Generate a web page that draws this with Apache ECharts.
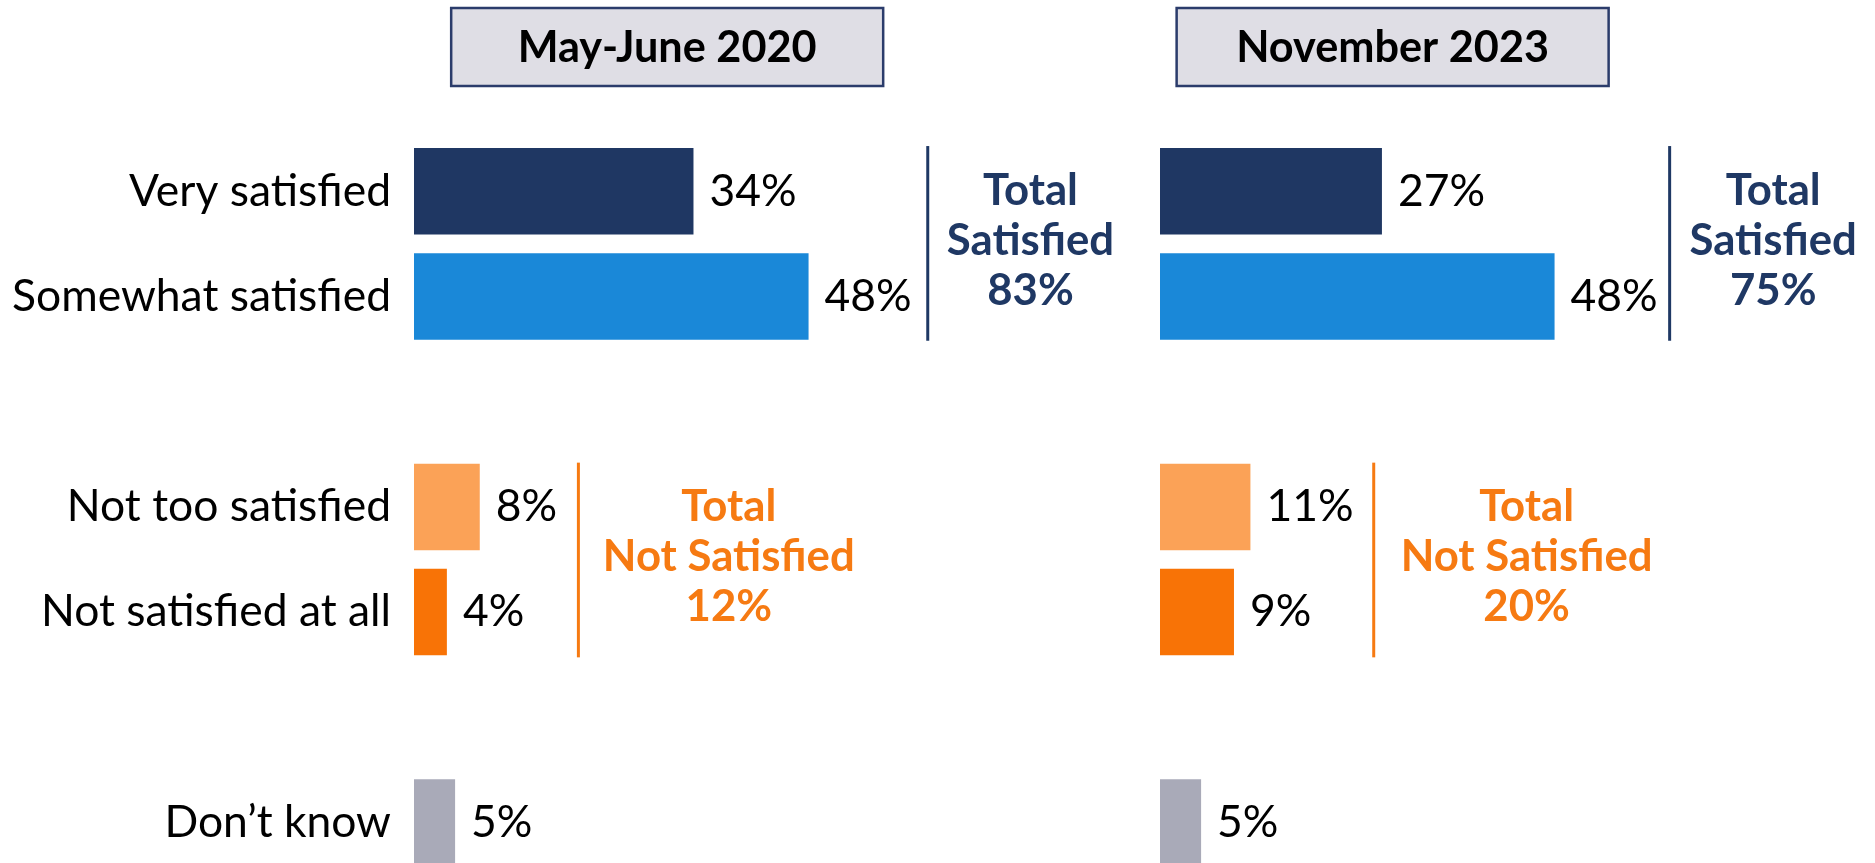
<!DOCTYPE html>
<html><head><meta charset="utf-8">
<script src="https://cdn.jsdelivr.net/npm/echarts@6/dist/echarts.min.js"></script>
<style>html,body{margin:0;padding:0;background:#fff}#c{width:1875px;height:863px}</style>
</head><body><div id="c"></div>
<script>
// ---- data ----
const categories = ['Very satisfied', 'Somewhat satisfied', '', 'Not too satisfied', 'Not satisfied at all', '', 'Don’t know'];
const periods = ['May-June 2020', 'November 2023'];
const values2020 = [34, 48, null, 8, 4, null, 5];
const values2023 = [27, 48, null, 11, 9, null, 5];
const totalSatisfied = [83, 75];
const totalNotSatisfied = [12, 20];

// ---- styles ----
const barColors = ['#1F3763', '#1A88D8', '#fff', '#FBA257', '#F87306', '#fff', '#A9AAB8'];
const NAVY = '#1F3864', ORANGE = '#F67A12';
const FONT = 'Lato';

function fit(text, target, weight) {
  const ctx = document.createElement('canvas').getContext('2d');
  ctx.font = weight + ' 100px ' + FONT;
  return 100 * target / ctx.measureText(text).width;
}
const labelSize = fit('Somewhat satisfied', 379, 'normal');
const boldSize = fit('Not Satisfied', 252, 'bold');
const titleSize = fit('November 2023', 313, 'bold');

const chart = echarts.init(document.getElementById('c'), null, {renderer: 'canvas'});
const grids = [
  {left: 414, top: 138.7, width: 411, height: 736.4, outerBoundsMode: 'none'},
  {left: 1160, top: 138.7, width: 411, height: 736.4, outerBoundsMode: 'none'}
];
const allValues = [values2020, values2023];

function barSeries(vals, gi) {
  return {
    type: 'bar', xAxisIndex: gi, yAxisIndex: gi, barWidth: 86.5, silent: true,
    data: vals.map((v, i) => v == null ? '-' : {value: v, itemStyle: {color: barColors[i]}}),
    label: {show: true, position: 'right', distance: 16, formatter: '{c}%',
      fontSize: labelSize, fontFamily: FONT, color: '#000'}
  };
}

chart.setOption({
  animation: false,
  backgroundColor: '#fff',
  grid: grids,
  xAxis: [0, 1].map(gi => ({gridIndex: gi, type: 'value', min: 0, max: 50, show: false})),
  yAxis: [0, 1].map(gi => ({
    gridIndex: gi, type: 'category', data: categories, inverse: true,
    axisLine: {show: false}, axisTick: {show: false}, splitLine: {show: false},
    axisLabel: {show: gi === 0, interval: 0, margin: 23, fontSize: labelSize, fontFamily: FONT, color: '#000'}
  })),
  series: [barSeries(values2020, 0), barSeries(values2023, 1)]
});

// ---- annotations placed through the axes ----
const layout = {
  headerX: [30.8, 28.3],
  satLineX: [62.5, 62.0], satTextX: [75.0, 74.6],
  notLineX: [20.0, 26.0], notTextX: [38.3, 44.6]
};
const half = 86.5 / 2;
const graphics = [];
[0, 1].forEach(gi => {
  const P = (x, y) => chart.convertToPixel({gridIndex: gi}, [x, y]);
  // header
  const hc = P(layout.headerX[gi], 0)[0];
  graphics.push({type: 'rect', shape: {x: hc - 216, y: 8, width: 432, height: 78},
    style: {fill: '#DFDEE5', stroke: '#2B3C6B', lineWidth: 2.5}});
  graphics.push({type: 'text', x: hc, y: 48, style: {text: periods[gi], fontSize: titleSize, fontWeight: 'bold',
    fontFamily: FONT, fill: '#000', align: 'center', verticalAlign: 'middle', textAlign: 'center', textVerticalAlign: 'middle'}});
  // satisfied bracket
  const y0 = P(0, 0)[1], y1 = P(0, 1)[1];
  const lx = P(layout.satLineX[gi], 0)[0];
  graphics.push({type: 'line', shape: {x1: lx, y1: y0 - half - 2, x2: lx, y2: y1 + half + 1},
    style: {stroke: NAVY, lineWidth: 3}});
  const tx = P(layout.satTextX[gi], 0)[0];
  graphics.push({type: 'text', x: tx, y: (y0 + y1) / 2 - 3, style: {
    text: 'Total\nSatisfied\n' + totalSatisfied[gi] + '%', fontSize: boldSize, fontWeight: 'bold', fontFamily: FONT,
    lineHeight: 50, fill: NAVY, align: 'center', verticalAlign: 'middle', textAlign: 'center', textVerticalAlign: 'middle'}});
  // not satisfied bracket
  const y3 = P(0, 3)[1], y4 = P(0, 4)[1];
  const ox = P(layout.notLineX[gi], 0)[0];
  graphics.push({type: 'line', shape: {x1: ox, y1: y3 - half - 1, x2: ox, y2: y4 + half + 2},
    style: {stroke: ORANGE, lineWidth: 3}});
  const otx = P(layout.notTextX[gi], 0)[0];
  graphics.push({type: 'text', x: otx, y: (y3 + y4) / 2 - 3, style: {
    text: 'Total\nNot Satisfied\n' + totalNotSatisfied[gi] + '%', fontSize: boldSize, fontWeight: 'bold', fontFamily: FONT,
    lineHeight: 50, fill: ORANGE, align: 'center', verticalAlign: 'middle', textAlign: 'center', textVerticalAlign: 'middle'}});
});
chart.setOption({graphic: {elements: graphics}});
</script></body></html>
